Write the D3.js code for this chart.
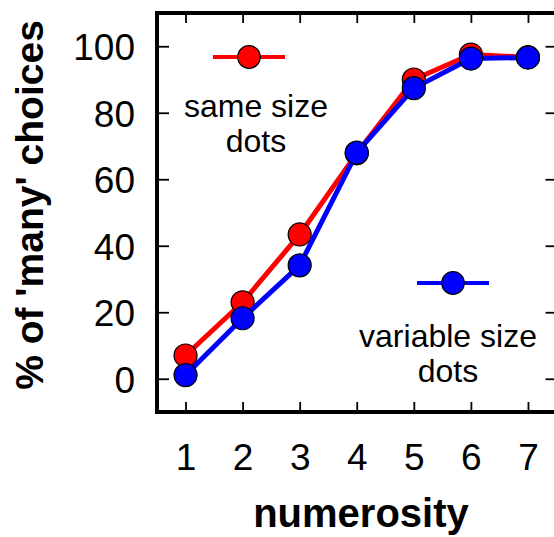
<!DOCTYPE html>
<html>
<head>
<meta charset="utf-8">
<script src="https://cdn.jsdelivr.net/npm/d3@7"></script>
<style>
  body { margin: 0; background: #fff; }
  svg { display: block; font-family: "Liberation Sans", Arial, sans-serif; }
</style>
</head>
<body>
<div id="chart"></div>
<script>
const numerosity = [1, 2, 3, 4, 5, 6, 7];
const sameSize = [7, 23, 43.4, 67.8, 90, 97.5, 96.7];
const variableSize = [1.1, 18.2, 34.1, 68, 87.4, 96.3, 96.6];
const yTicks = [0, 20, 40, 60, 80, 100];
const series = [
  { name: ['same size', 'dots'], values: sameSize, color: '#ff0000' },
  { name: ['variable size', 'dots'], values: variableSize, color: '#0000ff' }
];

const fullWidth = 554;
const fullHeight = 537;
const plot = { left: 157, right: 556.5, top: 13, bottom: 412 };

const svg = d3.select('#chart')
  .append('svg')
  .attr('width', fullWidth)
  .attr('height', fullHeight);

const xScale = d3.scaleLinear()
  .domain([0.5, 7.5])
  .range([plot.left, plot.right]);

const yScale = d3.scaleLinear()
  .domain([-10, 110])
  .range([plot.bottom, plot.top]);

// ticks pointing inward on all four sides
const yAxis = d3.axisLeft(yScale)
  .tickValues(yTicks)
  .tickSizeInner(-12)
  .tickSizeOuter(0)
  .tickPadding(22);

const yAxisRight = d3.axisRight(yScale)
  .tickValues(yTicks)
  .tickSizeInner(-11)
  .tickSizeOuter(0)
  .tickFormat('');

const xAxis = d3.axisBottom(xScale)
  .tickValues(numerosity)
  .tickFormat(d3.format('d'))
  .tickSizeInner(-10)
  .tickSizeOuter(0)
  .tickPadding(0);

const xAxisTop = d3.axisTop(xScale)
  .tickValues(numerosity)
  .tickSizeInner(-10)
  .tickSizeOuter(0)
  .tickFormat('');

const gy = svg.append('g')
  .attr('transform', `translate(${plot.left}, 0)`)
  .call(yAxis);
gy.selectAll('text')
  .attr('font-size', 37)
  .attr('dy', '0.36em')
  .attr('fill', '#000');

svg.append('g')
  .attr('transform', `translate(${plot.right}, 0)`)
  .call(yAxisRight);

const gx = svg.append('g')
  .attr('transform', `translate(0, ${plot.bottom})`)
  .call(xAxis);
gx.selectAll('text')
  .attr('font-size', 37)
  .attr('y', 0)
  .attr('dy', 58)
  .attr('fill', '#000');

svg.append('g')
  .attr('transform', `translate(0, ${plot.top})`)
  .call(xAxisTop);

svg.selectAll('.domain').remove();
svg.selectAll('.tick line')
  .attr('stroke', '#000')
  .attr('stroke-width', 1.8);

svg.append('rect')
  .attr('x', plot.left)
  .attr('y', plot.top)
  .attr('width', plot.right - plot.left)
  .attr('height', plot.bottom - plot.top)
  .attr('fill', 'none')
  .attr('stroke', '#000')
  .attr('stroke-width', 4);

// axis titles
svg.append('text')
  .attr('x', 361)
  .attr('y', 527)
  .attr('text-anchor', 'middle')
  .attr('font-size', 40)
  .attr('font-weight', 'bold')
  .text('numerosity');

svg.append('text')
  .attr('transform', 'translate(43, 205) rotate(-90)')
  .attr('text-anchor', 'middle')
  .attr('font-size', 39)
  .attr('font-weight', 'bold')
  .text("% of 'many' choices");

// series
const line = d3.line()
  .x((d, i) => xScale(numerosity[i]))
  .y(d => yScale(d));

series.forEach(s => {
  svg.append('path')
    .datum(s.values)
    .attr('d', line)
    .attr('fill', 'none')
    .attr('stroke', s.color)
    .attr('stroke-width', 5)
    .attr('stroke-linejoin', 'round');

  svg.append('g')
    .selectAll('circle')
    .data(s.values)
    .enter()
    .append('circle')
    .attr('cx', (d, i) => xScale(numerosity[i]))
    .attr('cy', d => yScale(d))
    .attr('r', 11.5)
    .attr('fill', s.color)
    .attr('stroke', '#000')
    .attr('stroke-width', 1.2);
});

// legends
const legendPos = [
  { x: 249, y: 57, textX: 256, textY: 117 },
  { x: 453, y: 283, textX: 448, textY: 347 }
];

series.forEach((s, i) => {
  const p = legendPos[i];
  const g = svg.append('g');
  g.append('line')
    .attr('x1', p.x - 36)
    .attr('x2', p.x + 36)
    .attr('y1', p.y)
    .attr('y2', p.y)
    .attr('stroke', s.color)
    .attr('stroke-width', 4);
  g.append('circle')
    .attr('cx', p.x)
    .attr('cy', p.y)
    .attr('r', 11.3)
    .attr('fill', s.color)
    .attr('stroke', '#000')
    .attr('stroke-width', 1.2);
  g.append('text')
    .attr('text-anchor', 'middle')
    .attr('font-size', 32)
    .selectAll('tspan')
    .data(s.name)
    .enter()
    .append('tspan')
    .attr('x', p.textX)
    .attr('y', (d, j) => p.textY + j * 35)
    .text(d => d);
});
</script>
</body>
</html>
